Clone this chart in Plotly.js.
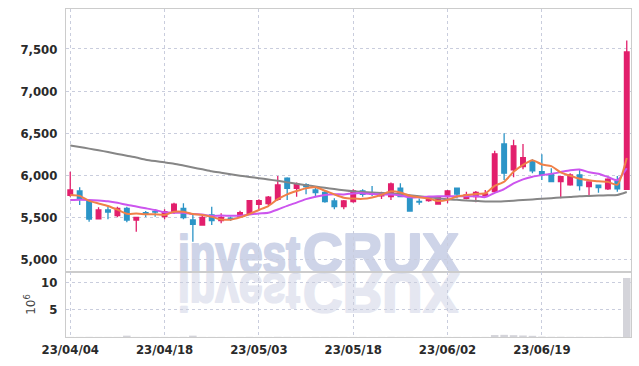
<!DOCTYPE html>
<html>
<head>
<meta charset="utf-8">
<script src="https://cdn.plot.ly/plotly-3.0.1.min.js"></script>
<style>html,body{margin:0;padding:0;background:#fff;}#chart{width:639px;height:366px;}</style>
</head>
<body>
<div id="chart"></div>
<script>
const dates = ["23/04/04","23/04/05","23/04/06","23/04/07","23/04/10","23/04/11","23/04/12","23/04/13","23/04/14","23/04/17",
"23/04/18","23/04/19","23/04/20","23/04/21","23/04/24","23/04/25","23/04/26","23/04/27","23/04/28","23/05/02",
"23/05/03","23/05/04","23/05/08","23/05/09","23/05/10","23/05/11","23/05/12","23/05/15","23/05/16","23/05/17",
"23/05/18","23/05/19","23/05/22","23/05/23","23/05/24","23/05/25","23/05/26","23/05/30","23/05/31","23/06/01",
"23/06/02","23/06/05","23/06/07","23/06/08","23/06/09","23/06/12","23/06/13","23/06/14","23/06/15","23/06/16",
"23/06/19","23/06/20","23/06/21","23/06/22","23/06/23","23/06/26","23/06/27","23/06/28","23/06/29","23/06/30"];

const openP = [5760,5813,5698,5483,5587,5519,5607,5468,5555,5570,5507,5567,5607,5468,5408,5527,5460,5490,5507,5536,
5655,5662,5714,5964,5845,5888,5825,5797,5694,5626,5686,5813,5785,5754,5745,5845,5745,5690,5698,5658,
5745,5845,5726,5745,5754,5805,6372,6063,6102,6162,6043,6012,5924,5885,6004,5864,5881,5837,5932,5833];
const highP = [6040,5857,5714,5619,5626,5626,5626,5505,5575,5595,5595,5674,5667,5527,5527,5626,5548,5510,5579,5706,
5714,5754,5992,5976,5912,5905,5857,5825,5726,5706,5833,5833,5873,5805,5912,5905,5754,5722,5738,5754,
5825,5849,5805,5813,5825,6290,6500,6420,6372,6190,6250,6083,5992,6024,6063,5920,5885,5964,5992,7600];
const lowP = [5745,5646,5448,5476,5476,5500,5440,5329,5505,5507,5476,5539,5476,5210,5400,5408,5428,5455,5500,5527,
5587,5646,5698,5706,5745,5774,5738,5674,5595,5595,5674,5745,5754,5718,5706,5738,5567,5650,5686,5650,
5667,5726,5714,5679,5745,5793,5944,5976,6071,6024,5944,5917,5726,5876,5817,5754,5793,5825,5805,5830];
const closeP = [5825,5718,5480,5587,5563,5607,5468,5500,5545,5562,5567,5655,5495,5417,5500,5460,5500,5482,5555,5698,
5698,5738,5885,5845,5893,5864,5793,5686,5626,5694,5813,5774,5775,5786,5896,5745,5575,5682,5726,5738,
5813,5777,5765,5797,5777,6254,6024,6349,6210,6051,6004,5924,5983,6004,5876,5920,5852,5952,5837,7464];

const ma5 = [5765,5755,5695,5665,5635,5591,5541,5545,5537,5536,5528,5566,5565,5539,5527,5505,5474,5472,5499,5539,
5587,5634,5715,5773,5812,5845,5856,5816,5772,5733,5722,5719,5736,5768,5809,5795,5755,5737,5725,5693,
5707,5747,5764,5778,5786,5874,5923,6040,6123,6178,6128,6108,6034,5993,5958,5941,5927,5921,5887,6205];
const ma10 = [5705,5708,5706,5700,5690,5672,5648,5628,5607,5586,5560,5553,5555,5538,5532,5517,5520,5518,5519,5533,
5546,5554,5593,5636,5675,5716,5745,5766,5773,5772,5784,5787,5776,5770,5771,5759,5737,5737,5747,5751,
5751,5751,5750,5751,5740,5790,5835,5902,5950,5982,6001,6016,6037,6058,6068,6035,6017,5978,5940,6082];
const ma60 = [6352,6335,6316,6297,6275,6253,6231,6210,6185,6168,6153,6137,6115,6092,6070,6047,6030,6012,5995,5980,
5965,5950,5933,5915,5898,5882,5866,5850,5835,5820,5808,5802,5796,5790,5783,5775,5762,5750,5737,5725,
5714,5707,5700,5694,5688,5688,5692,5698,5705,5712,5720,5727,5735,5742,5750,5754,5758,5761,5765,5800];

const volume = [0.02,0.02,0.03,0.02,0.02,0.02,0.25,0.02,0.01,0.02,0.02,0.02,0.03,0.25,0.02,0.02,0.02,0.01,0.02,0.03,
0.02,0.02,0.04,0.03,0.02,0.02,0.02,0.02,0.02,0.02,0.02,0.02,0.01,0.02,0.03,0.02,0.02,0.01,0.01,0.02,
0.02,0.02,0.01,0.02,0.02,0.36,0.40,0.34,0.28,0.22,0.08,0.04,0.05,0.03,0.03,0.02,0.02,0.03,0.02,10.9];

const tickDates = ["23/04/04","23/04/18","23/05/03","23/05/18","23/06/02","23/06/19"];
const priceTicks = [5000,5500,6000,6500,7000,7500];
const volTicks = [5,10];
const watermarkParts = ["invest", "CRUX"];

const FONT = "'DejaVu Sans Condensed','Liberation Sans Narrow',sans-serif";
const UP = '#e21f6c', DOWN = '#2c95c7';

const traces = [
  {type:'candlestick', x:dates, open:openP, high:highP, low:lowP, close:closeP, xaxis:'x', yaxis:'y',
   increasing:{line:{color:UP,width:1.3}, fillcolor:UP},
   decreasing:{line:{color:DOWN,width:1.3}, fillcolor:DOWN},
   whiskerwidth:0, showlegend:false, hoverinfo:'skip'},
  {type:'scatter', mode:'lines', x:dates, y:ma60, line:{color:'#868686', width:2, shape:'spline', smoothing:0.6}, xaxis:'x', yaxis:'y', hoverinfo:'skip'},
  {type:'scatter', mode:'lines', x:dates, y:ma10, line:{color:'#cc55ee', width:2, shape:'spline', smoothing:0.6}, xaxis:'x', yaxis:'y', hoverinfo:'skip'},
  {type:'scatter', mode:'lines', x:dates, y:ma5, line:{color:'#f08048', width:2, shape:'spline', smoothing:0.6}, xaxis:'x', yaxis:'y', hoverinfo:'skip'},
  {type:'bar', x:dates, y:volume, xaxis:'x', yaxis:'y2', marker:{color:'#d4d4da', line:{width:0}}, hoverinfo:'skip'}
];

const L = 66, R = 631, T = 9, B = 337, SEP = 272;
const W = R - L, H = B - T;

const gridc = '#c9cddd';
const tf = {family:FONT, size:13, color:'#2a2a2a', weight:'bold'};
const layout = {
  width:639, height:366,
  margin:{l:L, r:639-R, t:T, b:366-B, pad:0},
  paper_bgcolor:'#ffffff', plot_bgcolor:'rgba(0,0,0,0)',
  showlegend:false, hovermode:false,
  font:{family:FONT, size:13, color:'#2a2a2a'},
  xaxis:{type:'category', anchor:'y2', range:[-0.45, 59.45], tickmode:'array', tickvals:tickDates, ticktext:tickDates,
    showgrid:true, gridcolor:gridc, griddash:'dot', gridwidth:1,
    showline:true, linecolor:'#cccccc', linewidth:1, mirror:'all', ticks:'', zeroline:false,
    rangeslider:{visible:false}, tickfont:tf, fixedrange:true},
  yaxis:{domain:[(B-SEP)/H, 1], range:[4850, 7975], tickmode:'array', tickvals:priceTicks, tickformat:',d',
    showgrid:true, gridcolor:gridc, griddash:'dot', gridwidth:1, zeroline:false,
    showline:true, linecolor:'#cccccc', linewidth:1, mirror:'all', ticks:'', ticklabelstandoff:5,
    tickfont:tf, fixedrange:true},
  yaxis2:{domain:[0, (B-SEP)/H], range:[0, 12], tickmode:'array', tickvals:volTicks,
    showgrid:true, gridcolor:gridc, griddash:'dot', gridwidth:1, zeroline:false,
    showline:true, linecolor:'#cccccc', linewidth:1, mirror:'all', ticks:'', ticklabelstandoff:5,
    tickfont:tf,
    title:{text:'10<sup>6</sup>', font:{family:"'DejaVu Sans',sans-serif", size:12, color:'#444'}, standoff:2}, fixedrange:true}
};

Plotly.newPlot('chart', traces, layout, {displayModeBar:false, staticPlot:true}).then(function(gd){
  // watermark (real SVG text) placed beneath the grid and traces, with its mirrored reflection
  const NS = 'http://www.w3.org/2000/svg';
  const mainSvg = gd.querySelector('.main-svg');
  const below = mainSvg.querySelector('.layer-below') || mainSvg;
  function makeText(fill){
    const t = document.createElementNS(NS, 'text');
    t.setAttribute('y', SEP);
    t.setAttribute('font-family', "'Liberation Sans', Arial, sans-serif");
    t.setAttribute('font-weight', 'bold');
    t.setAttribute('font-size', '56');
    t.setAttribute('fill', fill);
    t.setAttribute('stroke', fill);
    t.setAttribute('stroke-width', '2.2');
    t.setAttribute('stroke-linejoin', 'round');
    const spans = [[178, 122, 51], [303, 156, 56]];
    watermarkParts.forEach(function(s, k){
      const ts = document.createElementNS(NS, 'tspan');
      ts.setAttribute('x', spans[k][0]);
      ts.setAttribute('textLength', spans[k][1]);
      ts.setAttribute('font-size', spans[k][2]);
      ts.setAttribute('lengthAdjust', 'spacingAndGlyphs');
      ts.textContent = s;
      t.appendChild(ts);
    });
    return t;
  }
  const g = document.createElementNS(NS, 'g');
  g.setAttribute('class', 'watermark');
  const refl = document.createElementNS(NS, 'g');
  refl.setAttribute('transform', 'translate(0,' + (2*SEP + 2) + ') scale(1,-1)');
  refl.appendChild(makeText('rgb(229,231,241)'));
  g.appendChild(refl);
  g.appendChild(makeText('rgb(206,212,232)'));
  below.insertBefore(g, below.firstChild);
});
</script>
</body>
</html>
